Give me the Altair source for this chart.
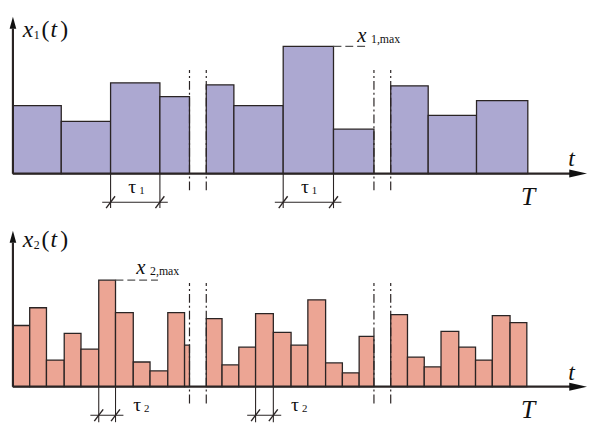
import altair as alt
import pandas as pd

# ---------------- data (time units on the t axis, amplitude units on x) ----------------
# upper process x1(t): bar edges per visible segment and bar heights
top_seg1 = [0, 4.9, 9.9, 14.9, 17.9]
top_seg2 = [19.6, 22.4, 27.4, 32.5, 36.6]
top_seg3 = [38.3, 42.1, 47.0, 52.2]
top_values = [6.9, 5.3, 9.2, 7.8, 9.0, 6.9, 12.9, 4.5, 8.9, 5.9, 7.4]

# lower process x2(t)
bot_seg1 = [0, 1.7, 3.4, 5.2, 6.9, 8.7, 10.4, 12.2, 13.9, 15.7, 17.4, 17.9]
bot_seg2 = [19.6, 21.2, 22.9, 24.6, 26.4, 28.2, 29.9, 31.7, 33.4, 35.1, 36.6]
bot_seg3 = [38.3, 40.0, 41.7, 43.4, 45.2, 46.9, 48.6, 50.4, 52.1]
bot_values = [6.2, 8.0, 2.7, 5.4, 3.8, 10.8, 7.5, 2.5, 1.6, 7.5, 4.2,
              6.9, 2.2, 4.0, 7.4, 5.5, 4.2, 8.8, 2.4, 1.4, 5.1,
              7.3, 3.0, 2.0, 5.6, 4.0, 2.7, 7.2, 6.5]

breaks = [17.9, 19.6, 36.6, 38.3]
tau1_pairs = [(9.9, 14.9), (27.4, 32.5)]
tau2_pairs = [(8.7, 10.4), (24.6, 26.4)]

X_DOMAIN = [-0.5, 58.2]
WIDTH = 587
FONT = "Liberation Serif"
STROKE = "#2a2424"


def bars_from(segs, values):
    starts, ends = [], []
    for s in segs:
        starts += s[:-1]
        ends += s[1:]
    return pd.DataFrame({"s": starts, "e": ends, "v": values})


def panel(segs, values, fill, ydom, height, tau_pairs, max_end, glyphs_it, glyphs_rm, x_top):
    xs = alt.Scale(domain=X_DOMAIN, nice=False, zero=False)
    ys = alt.Scale(domain=ydom, nice=False, zero=False)
    lo = ydom[0]

    def seg_layer(df, **mk):
        return alt.Chart(df).mark_rule(**mk).encode(
            x=alt.X("x1:Q", scale=xs, axis=None), x2="x2:Q",
            y=alt.Y("y1:Q", scale=ys, axis=None), y2="y2:Q")

    bars = bars_from(segs, values)
    vmax = max(values)
    imax = values.index(vmax)
    bar_layer = alt.Chart(bars).mark_rect(fill=fill, stroke=STROKE, strokeWidth=1.3).encode(
        x=alt.X("s:Q", scale=xs, axis=None), x2="e:Q",
        y=alt.Y("v:Q", scale=ys, axis=None), y2=alt.datum(0))

    axes = pd.DataFrame({"x1": [0, 0], "x2": [0, 57.0], "y1": [0, 0], "y2": [x_top - 0.6, 0]})
    axis_layer = seg_layer(axes, color=STROKE, strokeWidth=2.2)

    arr_up = alt.Chart(pd.DataFrame({"x": [0], "y": [x_top]})).mark_point(
        shape="M-0.55,1L0,-1L0.55,1Z", filled=True, opacity=1, color="#111", size=150).encode(
        x=alt.X("x:Q", scale=xs, axis=None), y=alt.Y("y:Q", scale=ys, axis=None))
    arr_rt = alt.Chart(pd.DataFrame({"x": [57.3], "y": [0]})).mark_point(
        shape="M-1,-0.45L1,0L-1,0.45Z", filled=True, opacity=1, color="#111", size=324).encode(
        x=alt.X("x:Q", scale=xs, axis=None), y=alt.Y("y:Q", scale=ys, axis=None))

    brk = pd.DataFrame({"x1": breaks, "x2": breaks, "y1": [-1.7] * 4, "y2": [10.5] * 4})
    brk_layer = seg_layer(brk, color=STROKE, strokeWidth=1.2, strokeDash=[9, 3, 2, 3])

    # dimension lines for tau
    ext_x, dim_x1, dim_x2, sl_x1, sl_x2 = [], [], [], [], []
    for a, b in tau_pairs:
        ext_x += [a, b]
        dim_x1.append(a - 0.85)
        dim_x2.append(b + 0.8)
        sl_x1 += [a - 0.45, b - 0.45]
        sl_x2 += [a + 0.45, b + 0.45]
    hy = -2.9
    ext = pd.DataFrame({"x1": ext_x, "x2": ext_x, "y1": [0] * len(ext_x), "y2": [lo] * len(ext_x)})
    dim = pd.DataFrame({"x1": dim_x1, "x2": dim_x2, "y1": [hy] * len(dim_x1), "y2": [hy] * len(dim_x1)})
    sl = pd.DataFrame({"x1": sl_x1, "x2": sl_x2, "y1": [hy - 0.6] * len(sl_x1), "y2": [hy + 0.6] * len(sl_x1)})
    ext_layer = seg_layer(ext, color=STROKE, strokeWidth=1.1)
    dim_layer = seg_layer(dim, color=STROKE, strokeWidth=1.1)
    sl_layer = seg_layer(sl, color=STROKE, strokeWidth=1.4)

    mx = pd.DataFrame({"x1": [bars["e"][imax]], "x2": [max_end], "y1": [vmax], "y2": [vmax]})
    mx_layer = seg_layer(mx, color="#555", strokeWidth=1.1, strokeDash=[8, 4])

    def txt_layer(rows, style):
        df = pd.DataFrame(rows, columns=["x", "y", "text", "size"])
        return alt.Chart(df).mark_text(align="left", baseline="alphabetic", font=FONT,
                                       fontStyle=style, color="#111").encode(
            x=alt.X("x:Q", scale=xs, axis=None), y=alt.Y("y:Q", scale=ys, axis=None),
            text="text:N", size=alt.Size("size:Q", scale=None, legend=None))

    layers = [bar_layer, brk_layer, ext_layer, dim_layer, sl_layer, mx_layer, axis_layer,
              arr_up, arr_rt, txt_layer(glyphs_it, "italic"), txt_layer(glyphs_rm, "normal")]
    return alt.layer(*layers).properties(width=WIDTH, height=height)


top = panel(
    [top_seg1, top_seg2, top_seg3], top_values, "#aca8d1", [-3.5, 16.5], 200,
    tau1_pairs, 35.7,
    glyphs_it=[[1.0, 13.8, "x", 24], [3.8, 13.8, "t", 24], [34.9, 13.3, "x", 21],
               [56.3, 0.8, "t", 24], [51.5, -3.2, "T", 26]],
    glyphs_rm=[[2.1, 13.6, "1", 12], [2.9, 13.8, "(", 24], [4.8, 13.8, ")", 24],
               [36.3, 13.2, "1,max", 12],
               [11.7, -2.0, "τ", 20], [12.8, -2.1, "1", 11],
               [29.2, -2.0, "τ", 20], [30.3, -2.1, "1", 11]],
    x_top=15.3)

bottom = panel(
    [bot_seg1, bot_seg2, bot_seg3], bot_values, "#eca594", [-3.6, 17.9], 215,
    tau2_pairs, 14.7,
    glyphs_it=[[1.0, 14.2, "x", 24], [3.8, 14.2, "t", 24], [12.5, 11.4, "x", 21],
               [56.3, 0.7, "t", 24], [51.5, -3.15, "T", 26]],
    glyphs_rm=[[2.1, 14.0, "2", 12], [2.9, 14.2, "(", 24], [4.8, 14.2, ")", 24],
               [13.9, 11.3, "2,max", 12],
               [12.2, -2.5, "τ", 20], [13.3, -2.6, "2", 11],
               [28.2, -2.5, "τ", 20], [29.3, -2.6, "2", 11]],
    x_top=15.2)

chart = alt.vconcat(top, bottom, spacing=0).properties(padding=0).configure_view(stroke=None)
chart.save("out.html", embed_options={"renderer": "svg", "actions": False})
